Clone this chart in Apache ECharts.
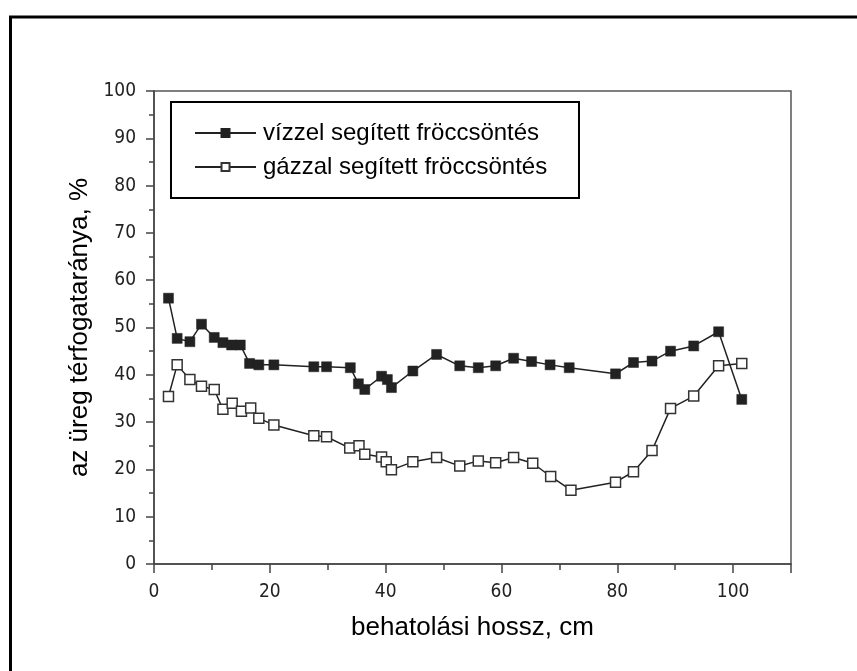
<!DOCTYPE html>
<html>
<head>
<meta charset="utf-8">
<script src="https://cdn.jsdelivr.net/npm/echarts@6/dist/echarts.min.js"></script>
<style>
html,body{margin:0;padding:0;background:#fff;}
#c{width:857px;height:671px;}
</style>
</head>
<body>
<div id="c"></div>
<script>
// Data
const waterX = [2.5, 4.0, 6.2, 8.2, 10.4, 11.9, 13.4, 14.9, 16.5, 18.1, 20.7, 27.6, 29.8, 33.9, 35.3, 36.4, 39.3, 40.3, 41.0, 44.7, 48.8, 52.8, 56.0, 59.0, 62.1, 65.2, 68.4, 71.7, 79.7, 82.8, 86.0, 89.2, 93.2, 97.5, 101.5];
const waterY = [56.2, 47.7, 47.0, 50.7, 47.9, 46.8, 46.3, 46.3, 42.4, 42.1, 42.1, 41.7, 41.7, 41.5, 38.1, 36.9, 39.7, 39.0, 37.3, 40.8, 44.3, 41.9, 41.5, 41.9, 43.5, 42.8, 42.1, 41.5, 40.2, 42.6, 42.9, 45.0, 46.1, 49.1, 34.8];
const gasX = [2.5, 4.0, 6.2, 8.2, 10.4, 11.9, 13.5, 15.1, 16.7, 18.1, 20.7, 27.6, 29.8, 33.8, 35.4, 36.4, 39.3, 40.1, 41.0, 44.7, 48.8, 52.8, 56.0, 59.0, 62.1, 65.4, 68.5, 72.0, 79.7, 82.8, 86.0, 89.2, 93.2, 97.5, 101.5];
const gasY = [35.4, 42.1, 39.0, 37.6, 36.9, 32.7, 34.0, 32.3, 33.0, 30.8, 29.4, 27.1, 26.9, 24.5, 25.0, 23.2, 22.6, 21.6, 19.9, 21.6, 22.5, 20.7, 21.8, 21.4, 22.5, 21.3, 18.5, 15.6, 17.3, 19.5, 24.0, 32.9, 35.5, 41.9, 42.4];
const xTickLabels = [0, 20, 40, 60, 80, 100];
const yTickLabels = [0, 10, 20, 30, 40, 50, 60, 70, 80, 90, 100];
const seriesNames = ['vízzel segített fröccsöntés', 'gázzal segített fröccsöntés'];
const xName = 'behatolási hossz, cm';
const yName = 'az üreg térfogataránya, %';

const pairs = (xs, ys) => xs.map((x, i) => [x, ys[i]]);
const tickFont = "'Liberation Sans Narrow','DejaVu Sans Condensed',sans-serif";
const textFont = "'Liberation Sans',Arial,sans-serif";
const axisColor = '#444';

const chart = echarts.init(document.getElementById('c'), null, {renderer: 'canvas'});
chart.setOption({
  backgroundColor: '#fff',
  animation: false,
  grid: {left: 154, top: 91, right: 66, bottom: 107, show: true, borderColor: '#555', borderWidth: 1.5, containLabel: false},
  xAxis: [{
    type: 'value', min: 0, max: 110, interval: 10,
    name: xName, nameLocation: 'middle', nameGap: 51,
    nameTextStyle: {fontFamily: textFont, fontSize: 26, color: '#000'},
    axisLine: {show: true, lineStyle: {color: axisColor, width: 1.5}},
    axisTick: {show: true, inside: false, length: 6, lineStyle: {color: axisColor, width: 1.5}},
    axisLabel: {
      margin: 19, fontFamily: tickFont, fontSize: 19, color: '#222',
      formatter: v => (xTickLabels.indexOf(v) >= 0 ? String(v) : '')
    },
    splitLine: {show: false}
  }, {
    type: 'value', min: 0, max: 110, interval: 20, position: 'bottom',
    axisLine: {show: false},
    axisTick: {show: true, length: 9, lineStyle: {color: axisColor, width: 1.5}},
    axisLabel: {show: false},
    splitLine: {show: false}
  }],
  yAxis: {
    type: 'value', min: 0, max: 100, interval: 10,
    name: yName, nameLocation: 'middle', nameGap: 61, nameRotate: 90,
    nameTextStyle: {fontFamily: textFont, fontSize: 26, color: '#000'},
    axisLine: {show: true, lineStyle: {color: axisColor, width: 1.5}},
    axisTick: {show: true, length: 8, lineStyle: {color: axisColor, width: 1.5}},
    minorTick: {show: true, splitNumber: 2, length: 5, lineStyle: {color: axisColor, width: 1.5}},
    axisLabel: {
      margin: 18, fontFamily: tickFont, fontSize: 19, color: '#222',
      formatter: v => (yTickLabels.indexOf(v) >= 0 ? String(v) : '')
    },
    splitLine: {show: false}
  },
  legend: {
    orient: 'vertical', left: 194, top: 118, padding: 0,
    itemWidth: 61, itemHeight: 10, itemGap: 4,
    textStyle: {fontFamily: textFont, fontSize: 24, color: '#000', lineHeight: 30, padding: [0, 0, 0, 2]},
    data: seriesNames
  },
  graphic: [
    {type: 'rect', shape: {x: 10.5, y: 17, width: 1000, height: 1000}, style: {fill: 'none', stroke: '#000', lineWidth: 3}, silent: true},
    {type: 'rect', shape: {x: 171, y: 102, width: 408, height: 96}, style: {fill: 'none', stroke: '#000', lineWidth: 2}, silent: true}
  ],
  series: [{
    name: seriesNames[0], type: 'line', data: pairs(waterX, waterY),
    symbol: 'rect', symbolSize: 10,
    lineStyle: {color: '#222', width: 1.5},
    itemStyle: {color: '#222', borderColor: '#222', borderWidth: 0.5}
  }, {
    name: seriesNames[1], type: 'line', data: pairs(gasX, gasY),
    symbol: 'rect', symbolSize: 10,
    lineStyle: {color: '#222', width: 1.5},
    itemStyle: {color: '#fff', borderColor: '#333', borderWidth: 1.5}
  }]
});
</script>
</body>
</html>
